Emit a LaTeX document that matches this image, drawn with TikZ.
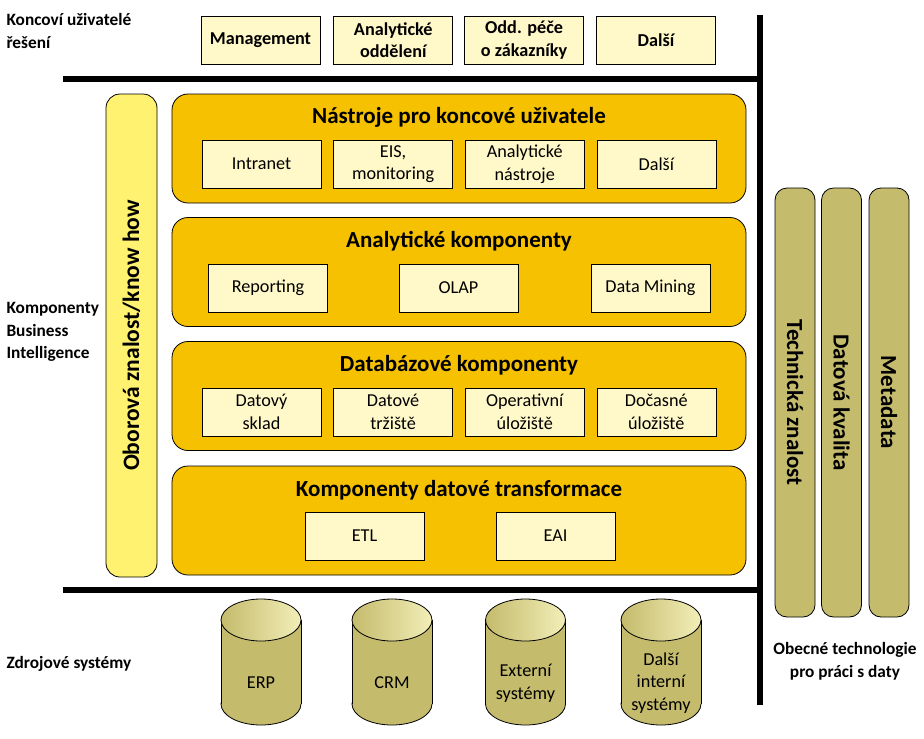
\documentclass[tikz,border=0pt]{standalone}
\usepackage{fontspec}
\setmainfont{Carlito}
\usetikzlibrary{positioning}

\definecolor{paleyellow}{HTML}{FFF8C8}
\definecolor{gold}{HTML}{F6C100}
\definecolor{baryellow}{HTML}{FFF270}
\definecolor{khaki}{HTML}{C4BB6C}
\definecolor{khakilight}{HTML}{F2EEB8}

\begin{document}
\begin{tikzpicture}
    [x=1pt, y=-1pt,
    userbox/.style={rectangle, draw=black, thick, fill=paleyellow, minimum width=119pt, minimum height=48pt, align=center, font=\bfseries\fontsize{18.2}{22.5}\selectfont},
    toolbox/.style={rectangle, draw=black, semithick, fill=paleyellow, minimum width=119pt, minimum height=48pt, align=center, font=\fontsize{18.2}{22.5}\selectfont},
    layer/.style={rectangle, rounded corners=16pt, draw=black, thick, fill=gold, minimum width=574pt, minimum height=109pt},
    heading/.style={font=\bfseries\fontsize{23}{26}\selectfont},
    sidelabel/.style={anchor=west, align=left, font=\bfseries\fontsize{17.3}{22.5}\selectfont},
    knowhow/.style={rectangle, rounded corners=14pt, draw=black, thick, fill=baryellow, minimum width=483pt, minimum height=51pt, rotate=90, font=\bfseries\fontsize{23.5}{26}\selectfont},
    techbar/.style={rectangle, rounded corners=12pt, draw=black, thick, fill=khaki, minimum width=429pt, minimum height=40pt, rotate=-90, font=\bfseries\fontsize{23}{26}\selectfont},
    source/.style={align=center, font=\fontsize{18.2}{22.5}\selectfont},
    divider/.style={line width=6pt}]

    \useasboundingbox (0,0) rectangle (924,739);

    %Side labels
    \node[sidelabel](lusers) at (3,31){Koncoví uživatelé\\řešení};
    \node[sidelabel](lbi) at (3,332){Komponenty\\Business\\Intelligence};
    \node[sidelabel](lsrc) at (3,664){Zdrojové systémy};
    \node[align=center, font=\bfseries\fontsize{17.3}{23}\selectfont](lgen) at (845,661){Obecné technologie\\pro práci s daty};

    %End users
    \node[userbox](mgmt) at (260.5,40){Management};
    \node[userbox](anal)[right=13pt of mgmt]{Analytické\\oddělení};
    \node[userbox](care)[right=11pt of anal]{Odd. péče\\o zákazníky};
    \node[userbox](more)[right=12pt of care]{Další};

    %Dividers
    \coordinate(ttl) at (63,79);
    \coordinate(ttr) at (760,79);
    \coordinate(bbl) at (63,590);
    \coordinate(bbr) at (760,590);
    \coordinate(vtop) at (760,15);
    \coordinate(vbot) at (760,705);
    \draw[divider](ttl)--(ttr);
    \draw[divider](bbl)--(bbr);
    \draw[divider](vtop)--(vbot);

    %Know how bar
    \node[knowhow](oborova) at (131.5,335.5){Oborová znalost/know how};

    %Layers
    \node[layer](tools) at (459,148.5){};
    \node[heading](htools) at (459,117){Nástroje pro koncové uživatele};
    \node[toolbox](intranet) at (261.5,164){Intranet};
    \node[toolbox](eis)[right=12pt of intranet]{EIS,\\monitoring};
    \node[toolbox](atools)[right=12pt of eis]{Analytické\\nástroje};
    \node[toolbox](tmore)[right=12pt of atools]{Další};

    \node[layer](analytic) at (459,272){};
    \node[heading](hanalytic) at (459,241){Analytické komponenty};
    \node[toolbox](report) at (268,288){Reporting};
    \node[toolbox](olap) at (458.5,288){OLAP};
    \node[toolbox](mining) at (650.5,288){Data Mining};

    \node[layer](db) at (459,396){};
    \node[heading](hdb) at (459,365){Databázové komponenty};
    \node[toolbox](dwh) at (261.5,412){Datový\\sklad};
    \node[toolbox](mart)[right=12pt of dwh]{Datové\\tržiště};
    \node[toolbox](ods)[right=12pt of mart]{Operativní\\úložiště};
    \node[toolbox](stage)[right=12pt of ods]{Dočasné\\úložiště};

    \node[layer](transform) at (459,520.5){};
    \node[heading](htransform) at (459,490){Komponenty datové transformace};
    \node[toolbox](etl) at (364.5,536){ETL};
    \node[toolbox](eai) at (555.5,536){EAI};

    %Technology bars
    \node[techbar](techkn) at (795,402.5){Technická znalost};
    \node[techbar](quality) at (841.5,402.5){Datová kvalita};
    \node[techbar](meta) at (889,402.5){Metadata};

    %Source systems (cylinders)
    \foreach \cx in {261,392,525.5,661}{
        \draw[thick, fill=khaki] (\cx,704) ellipse[x radius=40, y radius=21];
        \fill[khaki] (\cx-40,620) rectangle (\cx+40,704);
        \draw[thick] (\cx-40,620) -- (\cx-40,704) (\cx+40,620) -- (\cx+40,704);
        \draw[thick, left color=khaki, right color=khakilight] (\cx,620) ellipse[x radius=40, y radius=21];
    }
    \node[source](erp) at (261,683){ERP};
    \node[source](crm) at (392,683){CRM};
    \node[source](ext) at (525.5,683){Externí\\systémy};
    \node[source](intsys) at (661,683){Další\\interní\\systémy};
\end{tikzpicture}
\end{document}
